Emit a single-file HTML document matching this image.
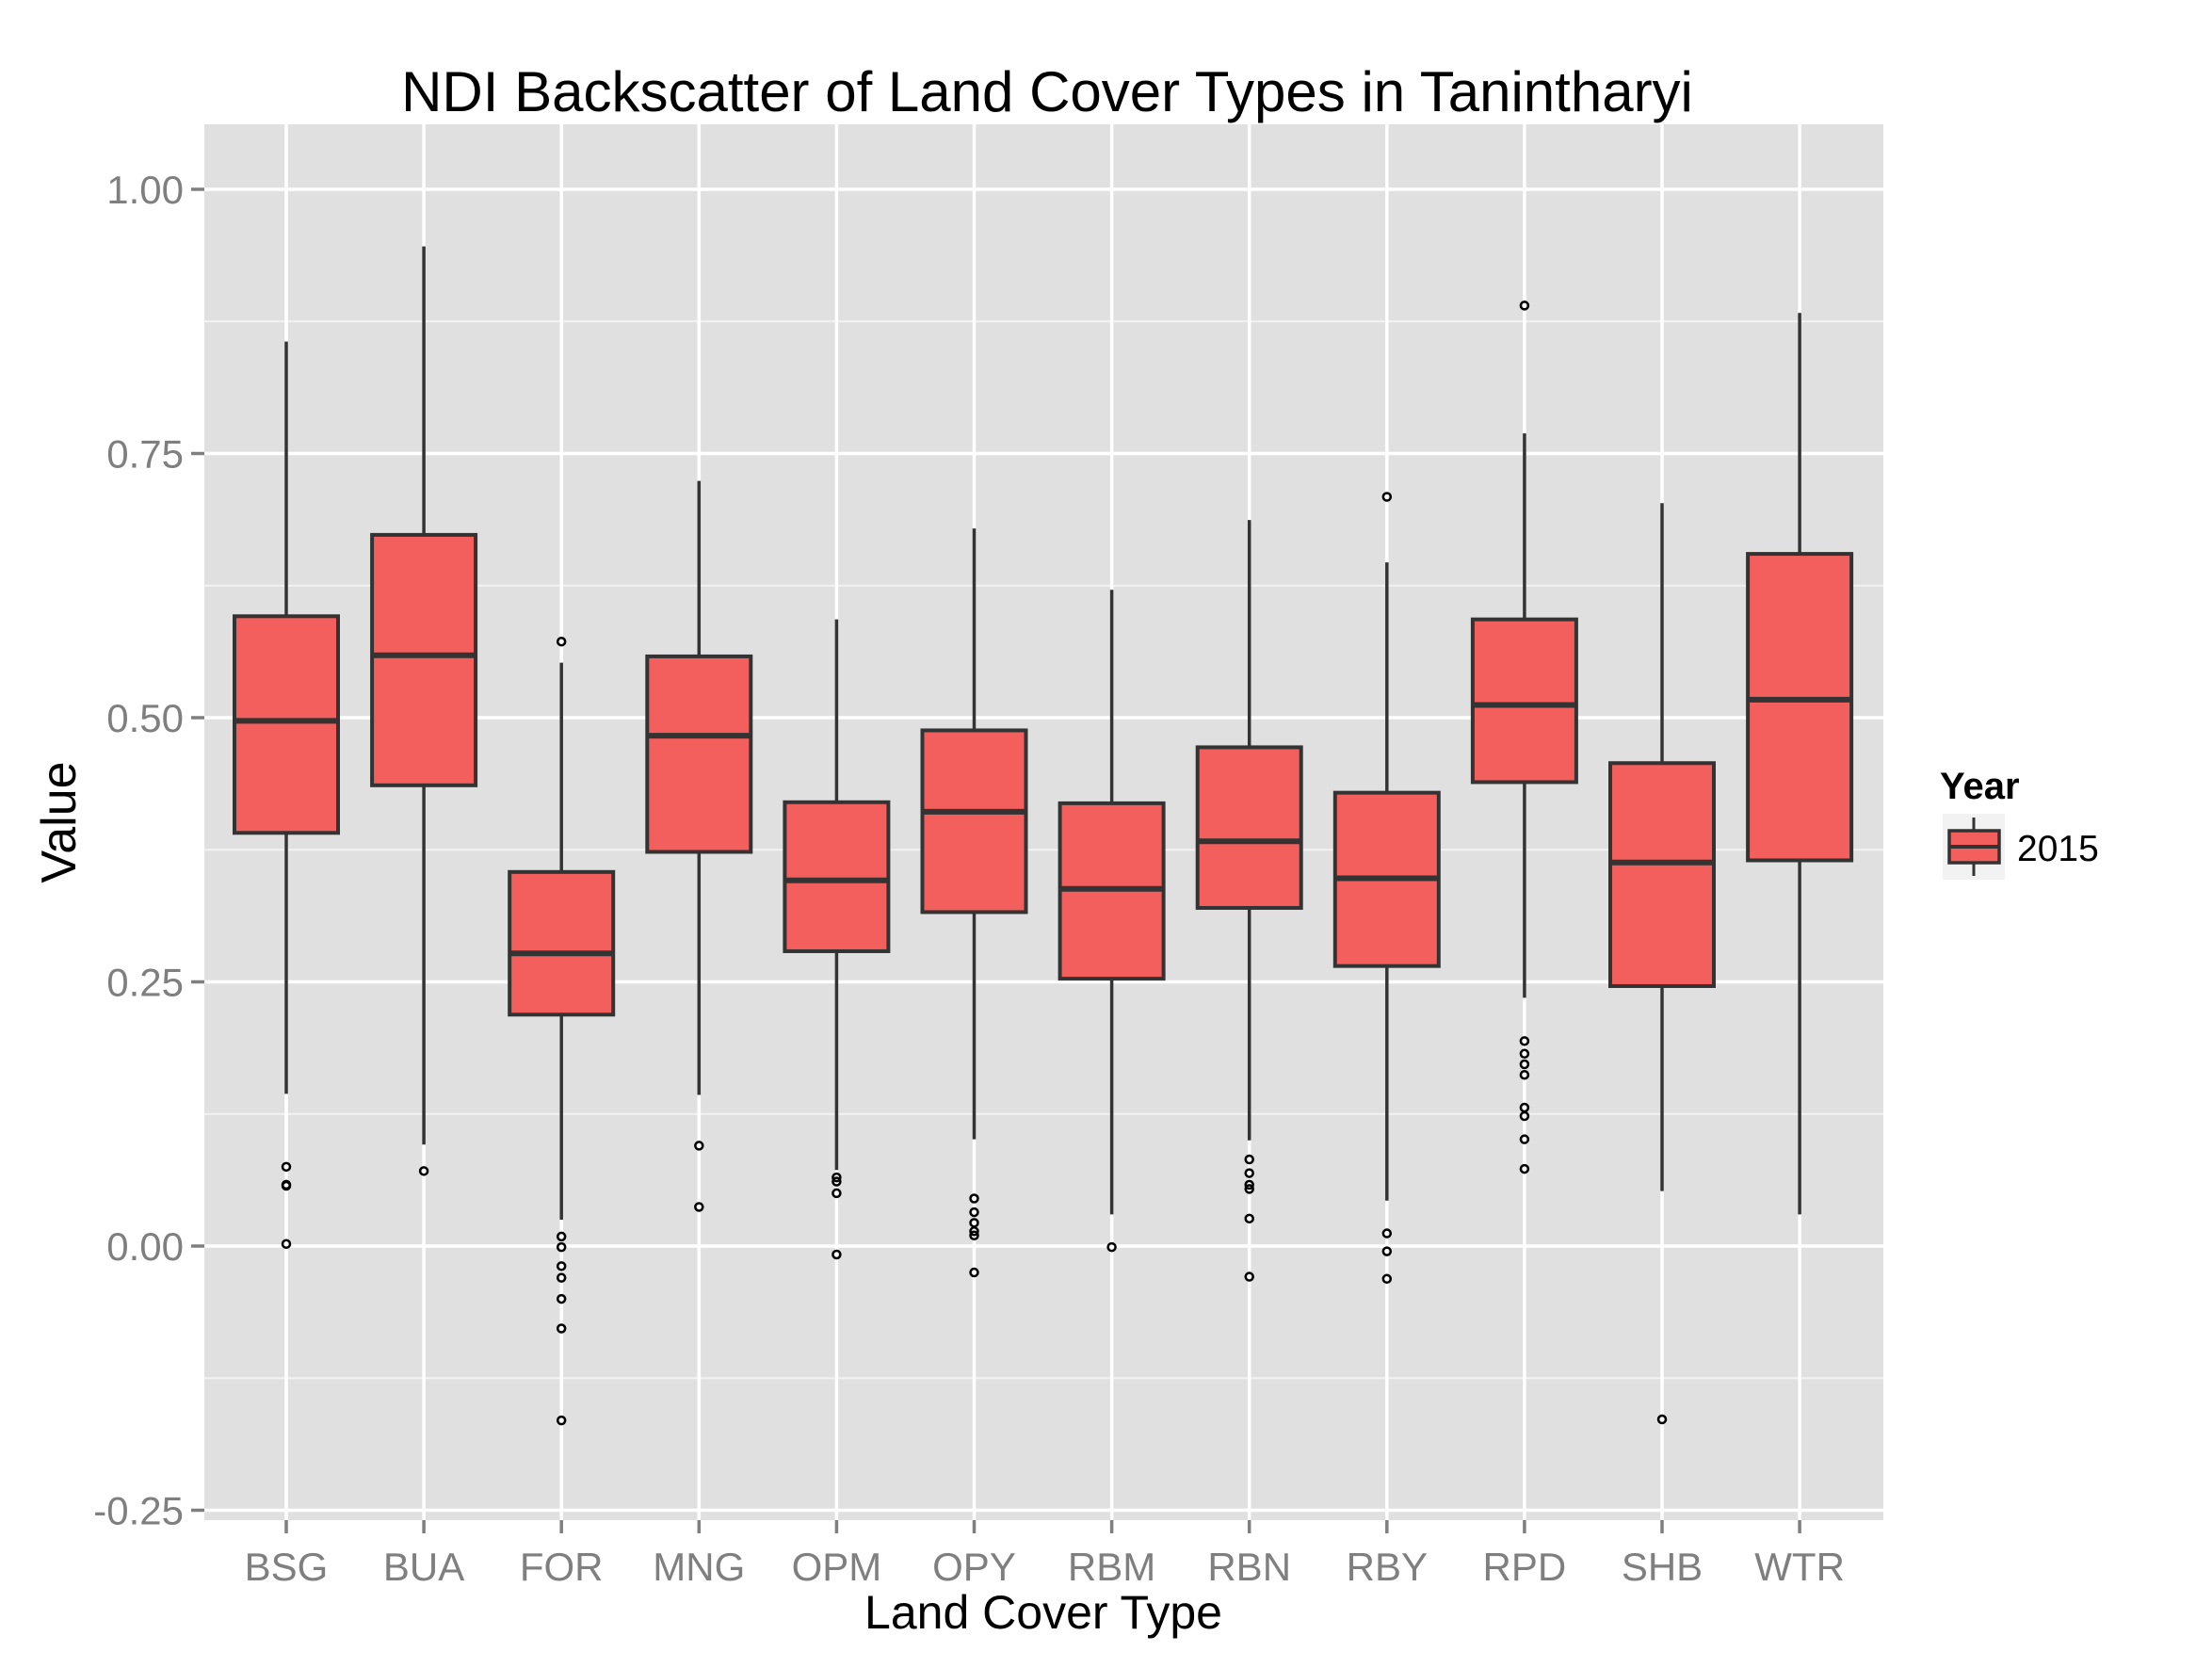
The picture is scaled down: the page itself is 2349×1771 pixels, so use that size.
<!DOCTYPE html>
<html><head><meta charset="utf-8">
<style>
html,body{margin:0;padding:0;background:#fff;}
svg{display:block;font-family:"Liberation Sans",Arial,sans-serif;}
</style></head>
<body>
<svg id="chart" width="2349" height="1771" viewBox="0 0 2349 1771">
  <rect x="0" y="0" width="2349" height="1771" fill="#fff"/>
  <rect id="panel" x="217" y="132" width="1783" height="1482" fill="#e0e0e0"/>
  <g id="grid"></g>
  <g id="yaxis"></g>
  <g id="xaxis"></g>
  <g id="boxes"></g>
  <text x="1112" y="118" font-size="60" text-anchor="middle" fill="#000">NDI Backscatter of Land Cover Types in Tanintharyi</text>
  <text x="1108" y="1729" font-size="50" text-anchor="middle" fill="#000">Land Cover Type</text>
  <text x="0" y="0" font-size="52" text-anchor="middle" fill="#000" transform="translate(80,873) rotate(-90)">Value</text>
  <g>
    <text x="2060" y="848" font-size="40" font-weight="bold" fill="#000">Year</text>
    <rect x="2063" y="864" width="66" height="70" fill="#f2f2f2"/>
    <line x1="2096" y1="868" x2="2096" y2="930" stroke="#333" stroke-width="3"/>
    <rect x="2070" y="882" width="53" height="34" fill="#f25f5c" stroke="#333" stroke-width="3.5"/>
    <line x1="2070" y1="899" x2="2123" y2="899" stroke="#333" stroke-width="4"/>
    <text x="2142" y="914" font-size="39" fill="#000">2015</text>
  </g>
</svg>
<script>
const categories = ["BSG","BUA","FOR","MNG","OPM","OPY","RBM","RBN","RBY","RPD","SHB","WTR"];
const whiskerHigh = [0.856,0.946,0.552,0.724,0.593,0.679,0.621,0.687,0.647,0.769,0.703,0.883];
const q3Values    = [0.596,0.673,0.354,0.558,0.420,0.488,0.419,0.472,0.429,0.593,0.457,0.655];
const medians     = [0.497,0.559,0.277,0.483,0.346,0.411,0.338,0.383,0.348,0.512,0.363,0.517];
const q1Values    = [0.391,0.436,0.219,0.373,0.279,0.316,0.253,0.320,0.265,0.439,0.246,0.365];
const whiskerLow  = [0.144,0.096,0.025,0.143,0.072,0.101,0.030,0.100,0.043,0.235,0.052,0.030];
const outliers = [
  [0.075,0.057,0.058,0.002],
  [0.071],
  [0.572,0.009,-0.001,-0.019,-0.030,-0.050,-0.078,-0.165],
  [0.095,0.037],
  [0.065,0.061,0.050,-0.008],
  [0.045,0.032,0.022,0.014,0.010,-0.025],
  [-0.001],
  [0.082,0.069,0.058,0.054,0.026,-0.029],
  [0.709,0.012,-0.005,-0.031],
  [0.890,0.194,0.182,0.172,0.162,0.131,0.123,0.101,0.073],
  [-0.164],
  []
];
const yTicks = [-0.25,0,0.25,0.5,0.75,1.0];
const yTickLabels = ["-0.25","0.00","0.25","0.50","0.75","1.00"];
const yMinor = [-0.125,0.125,0.375,0.625,0.875];

const NS = "http://www.w3.org/2000/svg";
const PL = 217, PR = 2000, PT = 132, PB = 1614;
function yScale(v){ return 1323 - v * 1122; }
function xScale(i){ return 304 + i * 146.1; }
function mk(tag, attrs, parent){
  const e = document.createElementNS(NS, tag);
  for (const k in attrs) e.setAttribute(k, attrs[k]);
  parent.appendChild(e);
  return e;
}
const grid = document.getElementById('grid');
const yaxis = document.getElementById('yaxis');
const xaxis = document.getElementById('xaxis');
const boxes = document.getElementById('boxes');

yMinor.forEach(v => {
  const l = mk('line', {x1:PL, x2:PR, y1:yScale(v), y2:yScale(v), stroke:'#f2f2f2', 'stroke-width':2}, grid);
  
  
});
yTicks.forEach((v, i) => {
  const y = yScale(v);
  const l = mk('line', {x1:PL, x2:PR, y1:y, y2:y, stroke:'#fff', 'stroke-width':3.5}, grid);
  
  
  const t = mk('line', {x1:PL-14, x2:PL, y1:y, y2:y, stroke:'#7f7f7f', 'stroke-width':3.5}, yaxis);
  
  
  const tx = mk('text', {x:PL-22, y:y+15, 'font-size':42, 'text-anchor':'end', fill:'#7f7f7f'}, yaxis);
  tx.textContent = yTickLabels[i];
  
  
});
categories.forEach((c, i) => {
  const x = xScale(i);
  const l = mk('line', {x1:x, x2:x, y1:PT, y2:PB, stroke:'#fff', 'stroke-width':3.5}, grid);
  
  
  const t = mk('line', {x1:x, x2:x, y1:PB, y2:PB+14, stroke:'#7f7f7f', 'stroke-width':3.5}, xaxis);
  
  
  const tx = mk('text', {x:x, y:1678, 'font-size':42, 'text-anchor':'middle', fill:'#7f7f7f'}, xaxis);
  tx.textContent = c;
  
  

  const g = mk('g', {}, boxes);
  
  
  const w1 = mk('line', {x1:x, x2:x, y1:yScale(whiskerHigh[i]), y2:yScale(q3Values[i]), stroke:'#333', 'stroke-width':3.5}, g);
  
  
  const w2 = mk('line', {x1:x, x2:x, y1:yScale(q1Values[i]), y2:yScale(whiskerLow[i]), stroke:'#333', 'stroke-width':3.5}, g);
  
  
  const r = mk('rect', {x:x-55, y:yScale(q3Values[i]), width:110, height:yScale(q1Values[i]) - yScale(q3Values[i]), fill:'#f25f5c', stroke:'#333', 'stroke-width':4}, g);
  
  
  const m = mk('line', {x1:x-55, x2:x+55, y1:yScale(medians[i]), y2:yScale(medians[i]), stroke:'#333', 'stroke-width':6}, g);
  
  
  outliers[i].forEach(v => {
    const o = mk('circle', {cx:x, cy:yScale(v), r:4, fill:'none', stroke:'#000', 'stroke-width':2.5}, g);
    
    
  });
});
</script>
</body></html>
